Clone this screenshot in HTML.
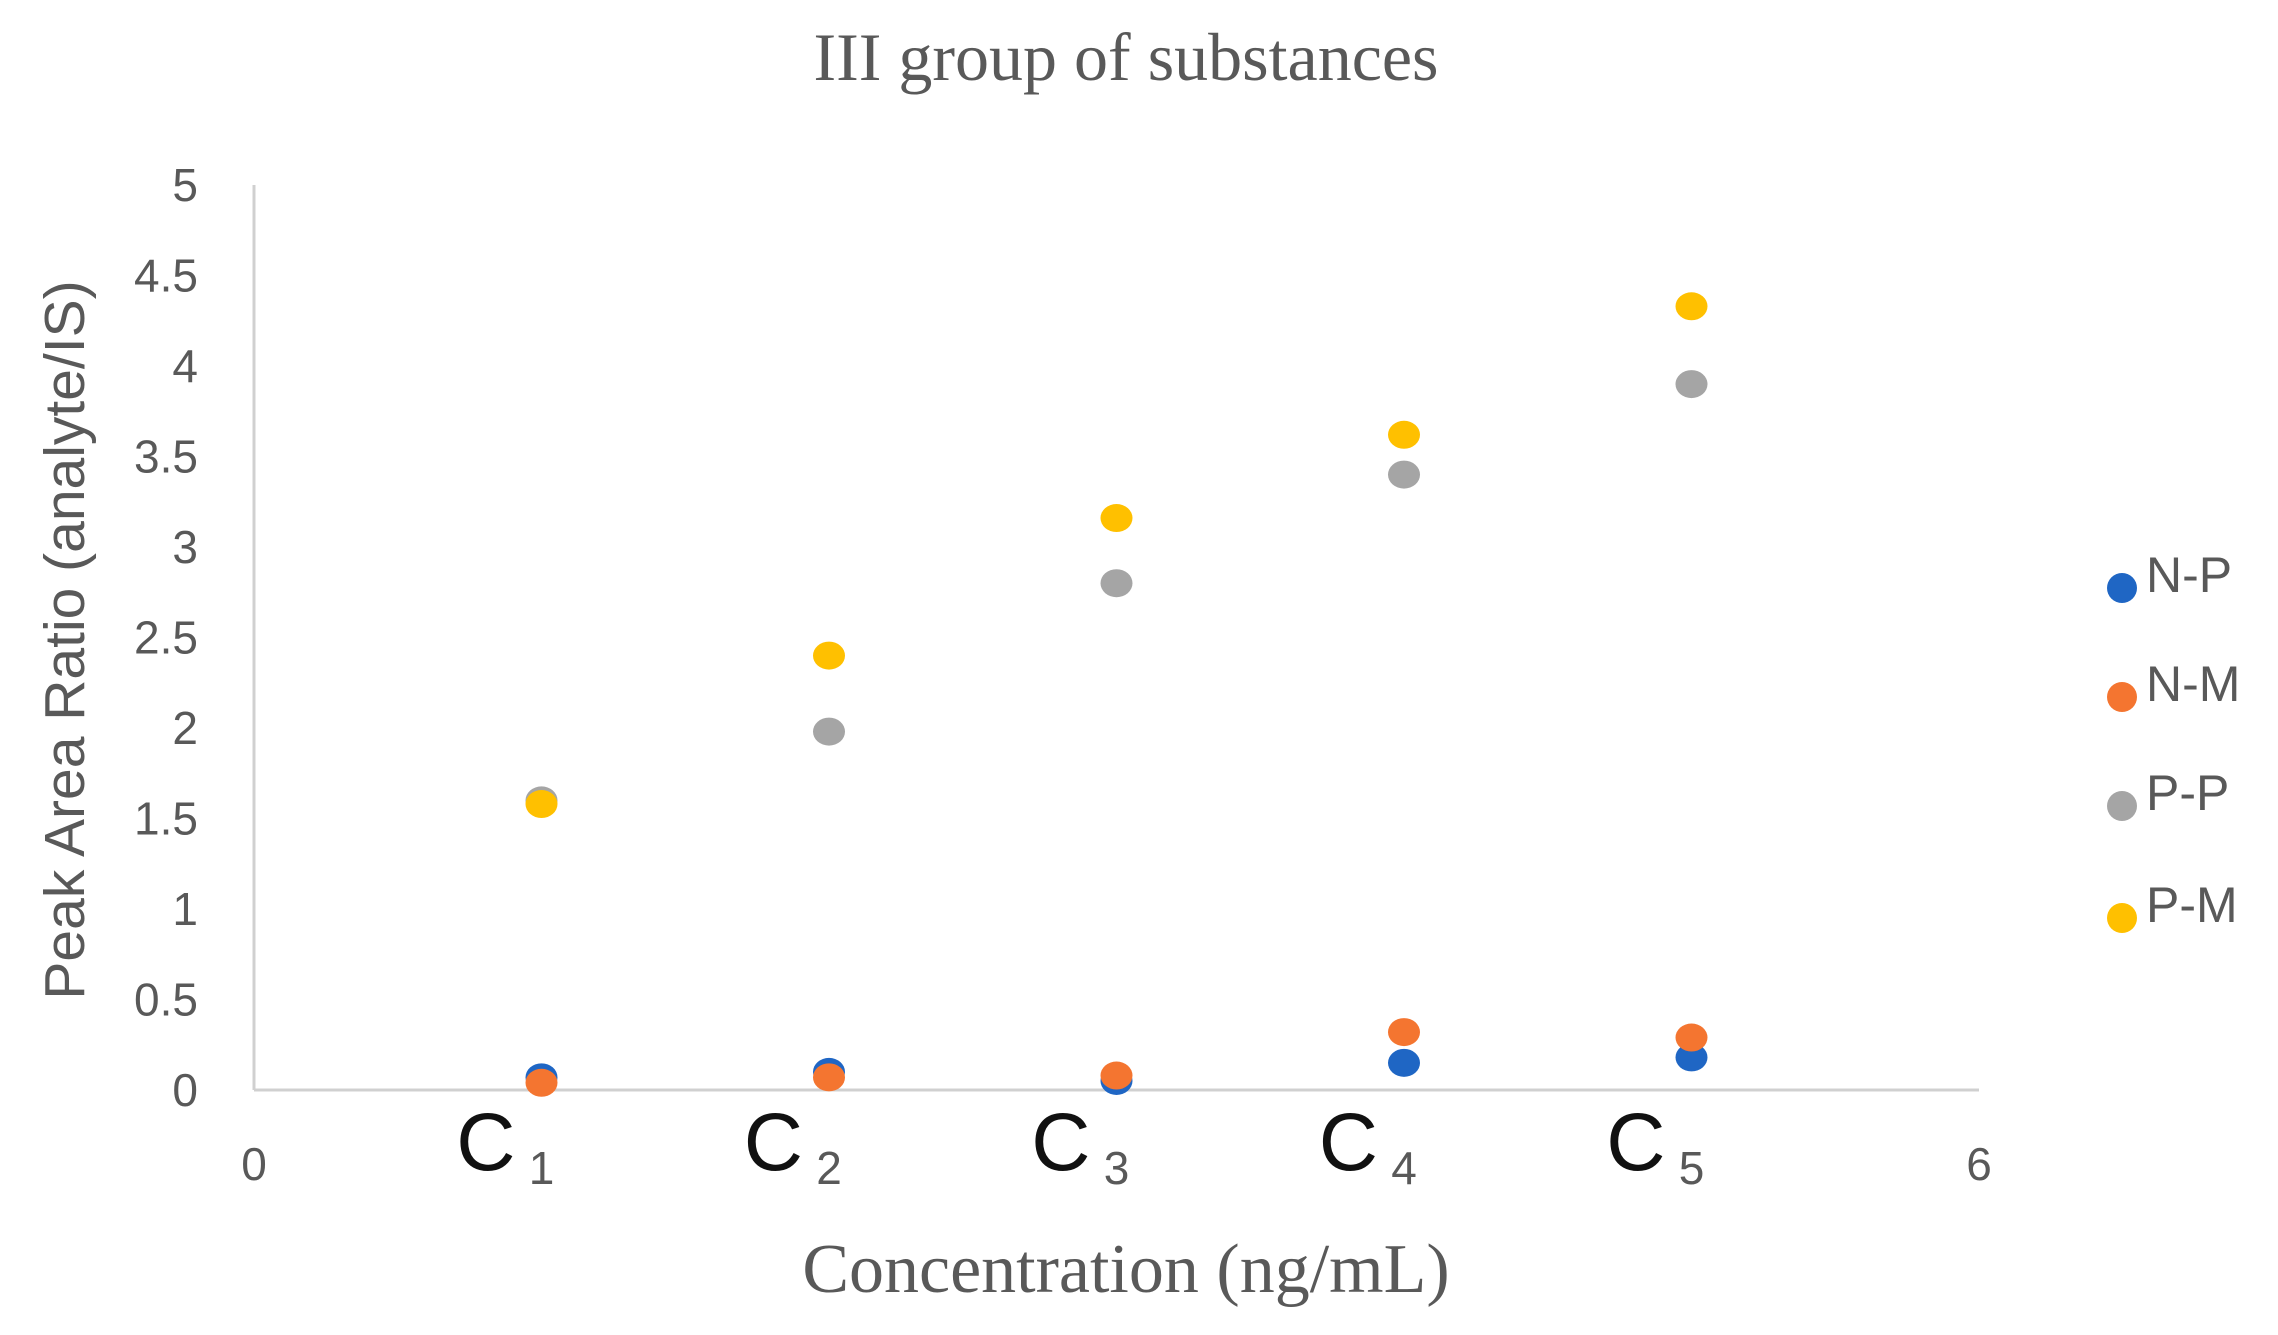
<!DOCTYPE html>
<html><head><meta charset="utf-8"><style>
html,body{margin:0;padding:0;background:#fff;}
svg{display:block;}
</style></head><body>
<svg id="chart" width="2278" height="1335" viewBox="0 0 2278 1335" xmlns="http://www.w3.org/2000/svg">
<rect width="2278" height="1335" fill="#fff"/>
<text x="1126" y="80" text-anchor="middle" font-family="Liberation Serif, serif" font-size="68" fill="#595959">III group of substances</text>
<text transform="translate(84,640) rotate(-90)" text-anchor="middle" font-family="Liberation Sans, sans-serif" font-size="57" fill="#595959">Peak Area Ratio (analyte/IS)</text>
<text x="1126" y="1292" text-anchor="middle" font-family="Liberation Serif, serif" font-size="70" fill="#595959">Concentration (ng/mL)</text>
<g id="axes"></g>
<g id="marks"></g>
<g id="legend"></g>
</svg>
<script>
const seriesNames = ["N-P","N-M","P-P","P-M"];
const seriesColors = ["#1f66c4","#f47530","#a5a5a5","#ffc000"];
const xValues = [1,2,3,4,5];
const npValues = [0.07,0.10,0.05,0.15,0.18];
const nmValues = [0.04,0.07,0.08,0.32,0.29];
const ppValues = [1.60,1.98,2.80,3.40,3.90];
const pmValues = [1.58,2.40,3.16,3.62,4.33];
const yTicks = ["0","0.5","1","1.5","2","2.5","3","3.5","4","4.5","5"];
const xTickLabels = ["0","1","2","3","4","5","6"];

const NS="http://www.w3.org/2000/svg";
const X0=254,X1=1979,Y0=1090,Y1=185;
const xs=v=>X0+(v/6)*(X1-X0);
const ys=v=>Y0-(v/5)*(Y0-Y1);
function mk(tag,attrs,parent){const e=document.createElementNS(NS,tag);for(const k in attrs)e.setAttribute(k,attrs[k]);parent.appendChild(e);return e;}
const axes=document.getElementById('axes'),marks=document.getElementById('marks'),legend=document.getElementById('legend');

let ya=mk('line',{x1:X0,y1:Y1,x2:X0,y2:Y0,stroke:'#d0d0d0','stroke-width':3},axes);


let xa=mk('line',{x1:X0,y1:Y0,x2:X1,y2:Y0,stroke:'#d0d0d0','stroke-width':3},axes);



yTicks.forEach(t=>{
  const e=mk('text',{x:198,y:ys(parseFloat(t))+16,'text-anchor':'end','font-family':'Liberation Sans, sans-serif','font-size':46,fill:'#595959'},axes);
  e.textContent=t;
  
  
});
xTickLabels.forEach((t,i)=>{
  const v=parseFloat(t);
  if(i===0||i===xTickLabels.length-1){
    const e=mk('text',{x:xs(v),y:1180,'text-anchor':'middle','font-family':'Liberation Sans, sans-serif','font-size':46,fill:'#595959'},axes);
    e.textContent=t;
    
    
  } else {
    const c=mk('text',{x:xs(v)-26,y:1170,'text-anchor':'end','font-family':'Liberation Sans, sans-serif','font-size':82,fill:'#111'},axes);
    c.textContent='C';
    
    
    const n=mk('text',{x:xs(v),y:1184,'text-anchor':'middle','font-family':'Liberation Sans, sans-serif','font-size':46,fill:'#595959'},axes);
    n.textContent=t;
    
    
  }
});

const allSeries=[npValues,nmValues,ppValues,pmValues];
allSeries.forEach((vals,si)=>{
  vals.forEach((v,i)=>{
    const c=mk('ellipse',{cx:xs(xValues[i]),cy:ys(v),rx:16,ry:14,fill:seriesColors[si]},marks);
    
    
  });
});

const legY=[588,697,806,918];
seriesNames.forEach((n,i)=>{
  const c=mk('circle',{cx:2122,cy:legY[i],r:15,fill:seriesColors[i]},legend);
  
  
  const t=mk('text',{x:2146,y:legY[i]+4,'font-family':'Liberation Sans, sans-serif','font-size':50,fill:'#595959'},legend);
  t.textContent=n;
  
  
});
</script>
</body></html>
